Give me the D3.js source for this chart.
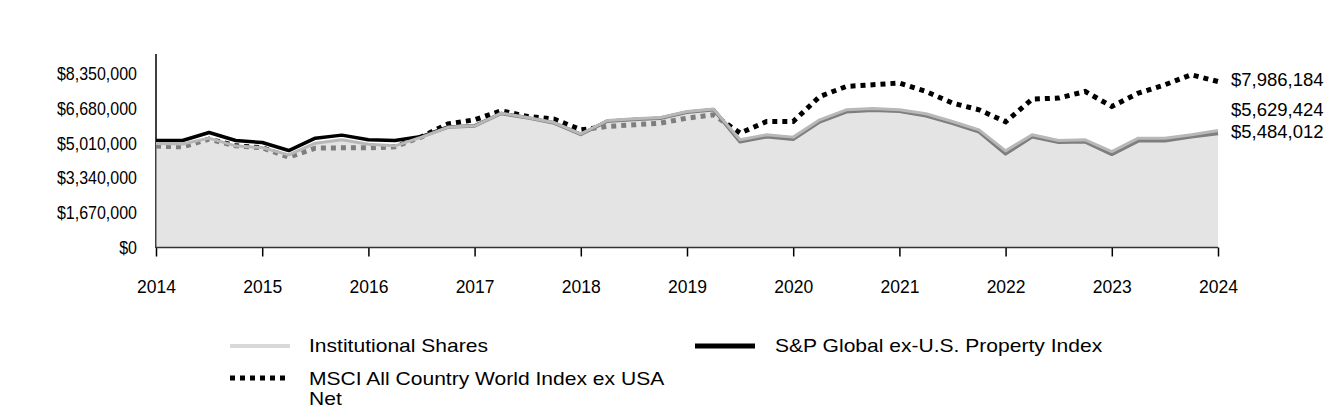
<!DOCTYPE html>
<html>
<head>
<meta charset="utf-8">
<script src="https://cdn.jsdelivr.net/npm/d3@7"></script>
<style>
  html, body { margin: 0; padding: 0; background: #fff; }
  svg { display: block; font-family: "Liberation Sans", Arial, sans-serif; }
</style>
</head>
<body>
<svg id="chart" width="1344" height="420"></svg>
<script>
const dates = d3.range(0, 41).map(i => 2014 + i / 4);

const institutional = [
  5000000, 4980000, 5263000, 4892000, 4810000, 4458000, 5022000, 5181000, 4974000, 4892000,
  5312000, 5794000, 5856000, 6468000, 6256000, 6015000, 5471000, 6112000, 6194000, 6256000,
  6546000, 6661000, 5181000, 5423000, 5312000, 6146000, 6628000, 6690000, 6628000, 6435000,
  6064000, 5664000, 4651000, 5423000, 5148000, 5181000, 4618000, 5263000, 5263000, 5423000,
  5629424
];
const spGlobal = [
  5148000, 5148000, 5533000, 5148000, 5051000, 4666000, 5263000, 5408000, 5181000, 5148000,
  5340000, 5800000, 5850000, 6450000, 6240000, 5990000, 5440000, 6080000, 6160000, 6220000,
  6510000, 6630000, 5085000, 5326000, 5206000, 6049000, 6531000, 6603000, 6555000, 6338000,
  5977000, 5567000, 4507000, 5326000, 5061000, 5085000, 4483000, 5133000, 5133000, 5326000,
  5484012
];
const msci = [
  4880000, 4844000, 5215000, 4892000, 4796000, 4348000, 4781000, 4796000, 4796000, 4844000,
  5326000, 5953000, 6146000, 6579000, 6305000, 6179000, 5664000, 5823000, 5905000, 5986000,
  6227000, 6387000, 5504000, 6064000, 6064000, 7269000, 7751000, 7833000, 7914000, 7510000,
  6950000, 6628000, 6049000, 7143000, 7191000, 7510000, 6787000, 7432000, 7833000, 8315000,
  7986184
];

const yTicks = [0, 1670000, 3340000, 5010000, 6680000, 8350000];
const xTicks = [2014, 2015, 2016, 2017, 2018, 2019, 2020, 2021, 2022, 2023, 2024];
const seriesNames = ["Institutional Shares", "S&P Global ex-U.S. Property Index", "MSCI All Country World Index ex USA Net"];
const endLabels = ["$5,629,424", "$5,484,012", "$7,986,184"];

const svg = d3.select("#chart");
const x = d3.scaleLinear().domain([2014, 2024]).range([156, 1218]);
const y = d3.scaleLinear().domain([0, 8350000]).range([247.5, 74]);
const fmt = d => "$" + d3.format(",")(d);

// y axis: labels drawn at x=0 then placed with a slight horizontal condensing
const yAxis = d3.axisLeft(y).tickValues(yTicks).tickSize(0).tickPadding(0).tickFormat(fmt);
const gy = svg.append("g").attr("transform", "translate(137,0)").call(yAxis);
gy.select(".domain").remove();
gy.selectAll(".tick text")
  .attr("font-size", 18).attr("fill", "#000").attr("font-family", "Liberation Sans, Arial, sans-serif")
  .attr("transform", "scale(0.89,1)");
svg.append("line").attr("x1", 156).attr("x2", 156).attr("y1", 54).attr("y2", 248)
  .attr("stroke", "#000").attr("stroke-width", 1.5);

const xAxis = d3.axisBottom(x).tickValues(xTicks).tickSize(9).tickPadding(24).tickFormat(d3.format("d"));
const gx = svg.append("g").attr("transform", "translate(0,247.5)").call(xAxis);
gx.select(".domain").remove();
gx.selectAll("line").attr("stroke", "#000").attr("stroke-width", 1.5);
gx.selectAll("text").attr("font-size", 17.5).attr("fill", "#000").attr("font-family", "Liberation Sans, Arial, sans-serif");

const line = d3.line().x((d, i) => x(dates[i])).y(d => y(d));
const area = d3.area().x((d, i) => x(dates[i])).y0(y(0)).y1(d => y(d));

// index lines (below the translucent fund area)
svg.append("path").datum(msci).attr("d", line).attr("fill", "none")
  .attr("stroke", "#000").attr("stroke-width", 5).attr("stroke-dasharray", "5,5");
svg.append("path").datum(spGlobal).attr("d", line).attr("fill", "none")
  .attr("stroke", "#000").attr("stroke-width", 3.5).attr("stroke-linejoin", "round");

// fund area
svg.append("path").datum(institutional).attr("d", area)
  .attr("fill", "rgb(210,210,210)").attr("fill-opacity", 0.6);
svg.append("path").datum(institutional).attr("d", line).attr("fill", "none")
  .attr("stroke", "#b8b8b8").attr("stroke-width", 3).attr("stroke-linejoin", "round");

// baseline
svg.append("line").attr("x1", 156).attr("x2", 1218).attr("y1", 247.5).attr("y2", 247.5)
  .attr("stroke", "#333").attr("stroke-width", 1.5);

// end labels
const endY = [111, 133, 81];
endLabels.forEach((t, i) => {
  svg.append("text").attr("x", 1231).attr("y", endY[i]).attr("dominant-baseline", "middle")
    .attr("font-size", 18.5).text(t);
});

// legend (text slightly widened to match the reference's proportions)
const lg = svg.append("g").attr("font-size", 18);
function legendText(tx, ty, str) {
  lg.append("text").attr("transform", `translate(${tx},${ty}) scale(1.17,1)`)
    .attr("dominant-baseline", "middle").text(str);
}
lg.append("line").attr("x1", 230).attr("x2", 290).attr("y1", 346).attr("y2", 346)
  .attr("stroke", "#d9d9d9").attr("stroke-width", 4);
legendText(309, 347, seriesNames[0]);
lg.append("line").attr("x1", 695).attr("x2", 755).attr("y1", 346).attr("y2", 346)
  .attr("stroke", "#000").attr("stroke-width", 5);
legendText(775, 347, seriesNames[1]);
lg.append("line").attr("x1", 230).attr("x2", 290).attr("y1", 378).attr("y2", 378)
  .attr("stroke", "#000").attr("stroke-width", 5).attr("stroke-dasharray", "5,5");
legendText(309, 380, "MSCI All Country World Index ex USA");
legendText(309, 400, "Net");
</script>
</body>
</html>
